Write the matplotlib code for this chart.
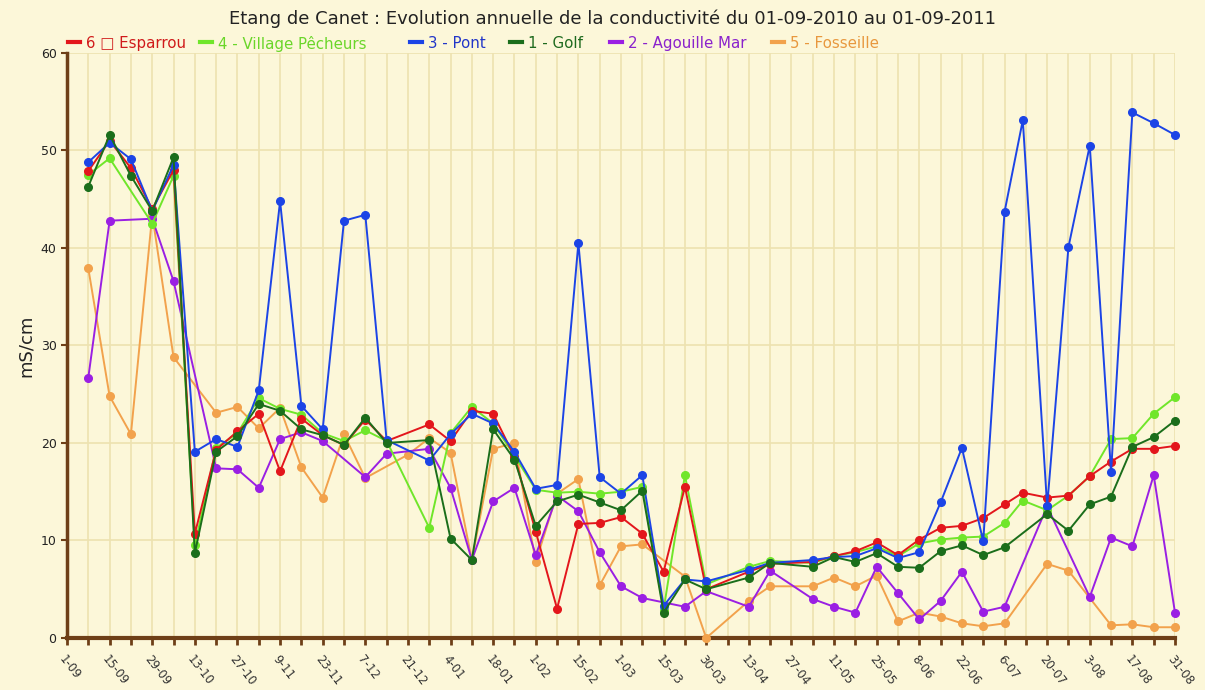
import numpy as np
import matplotlib
matplotlib.use('Agg')
from matplotlib import pyplot as plt
from matplotlib.lines import Line2D

# days since 01-09-2010 of each sampling
days = [7, 14, 21, 28, 35, 42, 49, 56, 63, 70, 77, 84, 91, 98, 105, 112, 119, 126,
        133, 140, 147, 154, 161, 168, 175, 182, 189, 196, 203, 210, 224, 231, 245,
        252, 259, 266, 273, 280, 287, 294, 301, 308, 314, 322, 329, 336, 343, 350,
        357, 364]

N = None
esparrou = [47.9, 51.0, 48.2, 44.0, 48.0, 10.7, 19.3, 21.2, 23.0, 17.1, 22.5, 20.8,
            19.8, 22.4, 20.2, N, 21.9, 20.2, 23.3, 23.0, 18.6, 10.9, 3.0, 11.7, 11.8,
            12.4, 10.7, 6.8, 15.5, 5.0, 6.8, 7.6, 7.8, 8.4, 8.9, 9.8, 8.5, 10.1, 11.3,
            11.5, 12.3, 13.7, 14.9, 14.4, 14.6, 16.6, 18.1, 19.4, 19.4, 19.7]
village = [47.5, 49.2, N, 42.5, 47.4, 9.5, 19.5, 21.0, 24.6, 23.5, 22.9, 21.0,
           20.2, 21.3, 20.2, N, 11.3, 21.0, 23.7, 22.0, 18.7, 15.2, 14.9, 15.0, 14.8,
           15.0, 15.5, 2.9, 16.7, 5.5, 7.3, 7.9, 7.7, 8.4, 8.8, 9.4, 8.4, 9.7, 10.1,
           10.3, 10.4, 11.8, 14.1, 13.1, 14.6, 16.6, 20.4, 20.5, 23.0, 24.7]
pont = [48.8, 50.8, 49.1, 43.8, 48.5, 19.1, 20.4, 19.6, 25.4, 44.8, 23.8, 21.4,
        42.8, 43.4, 20.3, N, 18.2, 20.9, 23.0, 22.0, 19.1, 15.3, 15.7, 40.5, 16.5,
        14.8, 16.7, 3.3, 6.0, 5.8, 7.0, 7.7, 8.0, 8.3, 8.4, 9.2, 8.2, 8.8, 13.9,
        19.5, 9.9, 43.7, 53.1, 13.5, 40.1, 50.5, 17.0, 53.9, 52.8, 51.6]
golf = [46.3, 51.6, 47.4, 43.8, 49.3, 8.7, 19.1, 20.7, 24.0, 23.3, 21.4, 20.8,
        19.8, 22.6, 20.0, N, 20.3, 10.2, 8.0, 21.4, 18.3, 11.5, 14.0, 14.7, 13.9,
        13.1, 15.1, 2.6, 6.0, 5.0, 6.2, 7.7, 7.3, 8.3, 7.8, 8.7, 7.3, 7.2, 8.9,
        9.5, 8.5, 9.3, N, 12.7, 11.0, 13.7, 14.5, 19.6, 20.6, 22.3]
agouille = [26.7, 42.8, N, 43.0, 36.6, N, 17.4, 17.3, 15.4, 20.4, 21.1, 20.2,
            N, 16.5, 18.9, N, 19.4, 15.4, 8.0, 14.0, 15.4, 8.5, 14.6, 13.0, 8.8,
            5.3, 4.1, N, 3.2, 4.8, 3.2, 6.9, 4.0, 3.2, 2.6, 7.3, 4.6, 1.9, 3.8,
            6.8, 2.7, 3.2, N, 13.5, N, 4.2, 10.3, 9.4, 16.7, 2.6]
fosseille = [37.9, 24.8, 20.9, 43.4, 28.8, N, 23.1, 23.7, 21.5, 23.6, 17.5, 14.4,
             20.9, 16.4, N, 18.8, 20.5, 19.0, 8.0, 19.4, 20.0, 7.8, 14.8, 16.3, 5.4,
             9.4, 9.6, N, 6.3, 0.0, 3.8, 5.3, 5.3, 6.2, 5.3, 6.4, 1.7, 2.6, 2.2,
             1.5, 1.2, 1.5, N, 7.6, 6.9, N, 1.3, 1.4, 1.1, 1.1]

tick_days = list(range(0, 365, 14))
tick_labels = ['1-09', '15-09', '29-09', '13-10', '27-10', '9-11', '23-11', '7-12',
               '21-12', '4-01', '18-01', '1-02', '15-02', '1-03', '15-03', '30-03',
               '13-04', '27-04', '11-05', '25-05', '8-06', '22-06', '6-07', '20-07',
               '3-08', '17-08', '31-08']

series = [
    ('6 \u25a1 Esparrou', esparrou, '#e3161c', '#d01a1a'),
    ('4 - Village P\u00eacheurs', village, '#70e62a', '#6ad62a'),
    ('3 - Pont', pont, '#1c44e6', '#2236c8'),
    ('1 - Golf', golf, '#1b6e1b', '#1e6a1e'),
    ('2 - Agouille Mar', agouille, '#9a1fe3', '#8a22cc'),
    ('5 - Fosseille', fosseille, '#f2a24c', '#e8983e'),
]
draw_order = [5, 4, 1, 0, 2, 3]
# left edge (pixels) of each legend entry
legend_px = [68, 200, 410, 510, 610, 772]

bg = '#fcf7d9'
brown = '#6e3f17'
W, H = 1205, 690

fig = plt.figure(figsize=(W / 100, H / 100), dpi=100, facecolor=bg)
ax = fig.add_axes([0.0556, 0.0754, 0.9195, 0.8478])
ax.set_facecolor(bg)

x_all = np.array(days, dtype=float)
for i in draw_order:
    name, vals, col, _ = series[i]
    v = np.array([np.nan if a is None else a for a in vals], dtype=float)
    m = ~np.isnan(v)
    ax.plot(x_all[m], v[m], '-o', color=col, lw=1.4, ms=5.5, mec=col,
            clip_on=False, zorder=3)

ax.set_xlim(0, 364)
ax.set_ylim(0, 60)

ax.set_xticks(tick_days)
ax.set_xticklabels(tick_labels, rotation=-52, ha='left', va='top',
                   rotation_mode='anchor', fontsize=8.5, color='#333333')
ax.set_xticks(np.arange(7, 364, 14), minor=True)
ax.set_yticks(range(0, 61, 10))
ax.tick_params(axis='y', labelsize=9, colors='#222222', length=4, width=1.5)
ax.tick_params(axis='y', color=brown)
ax.tick_params(axis='x', which='both', length=5, width=2, color=brown, pad=6)

ax.grid(True, which='both', axis='x', color='#ede2b0', lw=1.2, zorder=0)
ax.grid(True, which='major', axis='y', color='#ede2b0', lw=1.2, zorder=0)
ax.set_axisbelow(True)

for s in ['top', 'right']:
    ax.spines[s].set_visible(False)
ax.spines['left'].set_color(brown)
ax.spines['left'].set_linewidth(2.5)
ax.spines['bottom'].set_color(brown)
ax.spines['bottom'].set_linewidth(3)

ax.set_ylabel('mS/cm', fontsize=13, color='#222222', labelpad=4)

fig.text(0.508, 0.973, 'Etang de Canet : Evolution annuelle de la conductivit\u00e9 du '
         '01-09-2010 au 01-09-2011', ha='center', va='center', fontsize=13,
         color='#222222')

# legend row drawn by hand to keep the original spacing
ly = 1 - 42 / H
for (name, _, col, tcol), px in zip(series, legend_px):
    x0 = px / W
    fig.add_artist(Line2D([x0, x0 + 12 / W], [ly, ly], color=col, lw=3))
    fig.text(x0 + 18 / W, ly, name, color=tcol, fontsize=10.8,
             va='center_baseline', ha='left')

fig.savefig('out.png', dpi=100, facecolor=bg)
